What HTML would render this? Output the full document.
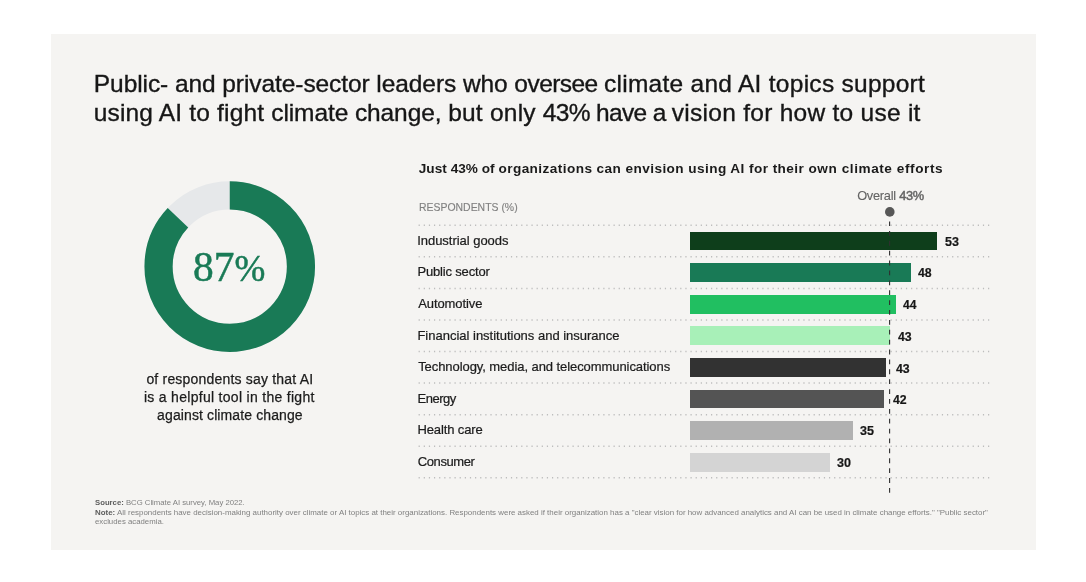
<!DOCTYPE html>
<html lang="en"><head><meta charset="utf-8"><title>AI and climate change survey</title>
<style>
html,body{margin:0;padding:0;background:#fff;}
body{width:1086px;height:582px;position:relative;overflow:hidden;font-family:'Liberation Sans',sans-serif;}
.panel{position:absolute;left:51px;top:34px;width:985px;height:516px;background:#f5f4f2;}
.t{position:absolute;white-space:pre;line-height:1;margin:0;transform-origin:0 50%;}
.bar{position:absolute;left:690.2px;height:18.8px;}
.foot{position:absolute;left:95.2px;white-space:pre;font-size:8px;line-height:1;color:#808080;transform-origin:0 50%;}
.foot b{color:#5c5c5c;}
</style></head><body>
<div class="panel"></div>
<div class="t" style="left:93.85px;top:72.00px;font-size:24.5px;color:#161616;-webkit-text-stroke:0.35px #161616;"><span style="letter-spacing:-0.077px">Public- and private-sector leaders who </span><span style="letter-spacing:-0.546px">oversee </span><span style="letter-spacing:0.273px">climate and AI topics support</span></div>
<div class="t" style="left:93.65px;top:101.00px;font-size:24.5px;color:#161616;-webkit-text-stroke:0.35px #161616;"><span style="letter-spacing:0.181px">using AI to fight </span><span style="letter-spacing:-0.094px">climate change, </span><span style="letter-spacing:0.231px">but only </span><span style="letter-spacing:-0.656px">43% have a </span><span style="letter-spacing:0.268px">vision for how to use it</span></div>
<div class="t" style="left:418.75px;top:162.00px;font-size:13.6px;font-weight:700;color:#1a1a1a;"><span style="letter-spacing:0.031px">Just 43% of </span><span style="letter-spacing:0.428px">organizations can envision using AI for their </span><span style="letter-spacing:0.568px">own climate efforts</span></div>
<div class="t" style="left:419.32px;top:201.00px;font-size:11.6px;color:#808080;transform:scaleX(0.9007);-webkit-text-stroke:0.15px #808080;">RESPONDENTS (%)</div>
<div class="t" style="left:857.20px;top:190.00px;font-size:12.8px;color:#646464;letter-spacing:-0.270px;-webkit-text-stroke:0.1px #646464;">Overall <span style="-webkit-text-stroke:0.45px #646464">43%</span></div>
<div class="t" style="left:417.20px;top:234.00px;font-size:13px;color:#1c1c1c;letter-spacing:-0.033px;-webkit-text-stroke:0.22px #1c1c1c;">Industrial goods</div>
<div class="t" style="left:417.45px;top:265.00px;font-size:13px;color:#1c1c1c;letter-spacing:-0.171px;-webkit-text-stroke:0.22px #1c1c1c;">Public sector</div>
<div class="t" style="left:418.20px;top:297.00px;font-size:13px;color:#1c1c1c;letter-spacing:-0.083px;-webkit-text-stroke:0.22px #1c1c1c;">Automotive</div>
<div class="t" style="left:417.45px;top:329.00px;font-size:13px;color:#1c1c1c;letter-spacing:-0.007px;-webkit-text-stroke:0.22px #1c1c1c;">Financial institutions and insurance</div>
<div class="t" style="left:418.20px;top:360.00px;font-size:13px;color:#1c1c1c;letter-spacing:-0.072px;-webkit-text-stroke:0.22px #1c1c1c;">Technology, media, and telecommunications</div>
<div class="t" style="left:417.45px;top:392.00px;font-size:13px;color:#1c1c1c;letter-spacing:-0.480px;-webkit-text-stroke:0.22px #1c1c1c;">Energy</div>
<div class="t" style="left:417.45px;top:423.00px;font-size:13px;color:#1c1c1c;letter-spacing:-0.115px;-webkit-text-stroke:0.22px #1c1c1c;">Health care</div>
<div class="t" style="left:417.70px;top:455.00px;font-size:13px;color:#1c1c1c;letter-spacing:-0.386px;-webkit-text-stroke:0.22px #1c1c1c;">Consumer</div>
<div class="t" style="left:944.76px;top:235.00px;font-size:13px;font-weight:700;color:#161616;transform:scaleX(0.9643);-webkit-text-stroke:0.2px #161616;">53</div>
<div class="t" style="left:918.10px;top:266.00px;font-size:13px;font-weight:700;color:#161616;transform:scaleX(0.9474);-webkit-text-stroke:0.2px #161616;">48</div>
<div class="t" style="left:903.30px;top:298.00px;font-size:13px;font-weight:700;color:#161616;transform:scaleX(0.9310);-webkit-text-stroke:0.2px #161616;">44</div>
<div class="t" style="left:897.50px;top:330.00px;font-size:13px;font-weight:700;color:#161616;transform:scaleX(0.9474);-webkit-text-stroke:0.2px #161616;">43</div>
<div class="t" style="left:896.40px;top:362.00px;font-size:13px;font-weight:700;color:#161616;transform:scaleX(0.9474);-webkit-text-stroke:0.2px #161616;">43</div>
<div class="t" style="left:892.80px;top:393.00px;font-size:13px;font-weight:700;color:#161616;transform:scaleX(0.9474);-webkit-text-stroke:0.2px #161616;">42</div>
<div class="t" style="left:860.36px;top:424.00px;font-size:13px;font-weight:700;color:#161616;transform:scaleX(0.9643);-webkit-text-stroke:0.2px #161616;">35</div>
<div class="t" style="left:837.16px;top:456.00px;font-size:13px;font-weight:700;color:#161616;transform:scaleX(0.9643);-webkit-text-stroke:0.2px #161616;">30</div>
<div class="t" style="left:146.40px;top:372.00px;font-size:14px;color:#1c1c1c;letter-spacing:0.194px;-webkit-text-stroke:0.25px #1c1c1c;">of respondents say that AI</div>
<div class="t" style="left:143.95px;top:390.00px;font-size:14px;color:#1c1c1c;letter-spacing:0.295px;-webkit-text-stroke:0.25px #1c1c1c;">is a helpful tool in the fight</div>
<div class="t" style="left:157.10px;top:408.00px;font-size:14px;color:#1c1c1c;letter-spacing:0.112px;-webkit-text-stroke:0.25px #1c1c1c;">against climate change</div>
<div class="t" style="left:192.78px;top:246.00px;font-size:42.5px;font-family:'Liberation Serif',serif;color:#197a56;transform:scaleX(0.9750);-webkit-text-stroke:0.5px #197a56;">87<span style="font-size:38px">%</span></div>
<div class="bar" style="top:231.50px;width:247.1px;background:#0e3e1b"></div>
<div class="bar" style="top:263.13px;width:221.3px;background:#197a56"></div>
<div class="bar" style="top:294.76px;width:205.6px;background:#21bf61"></div>
<div class="bar" style="top:326.39px;width:199.7px;background:#a8f0b8"></div>
<div class="bar" style="top:358.02px;width:196.3px;background:#323232"></div>
<div class="bar" style="top:389.65px;width:193.6px;background:#545454"></div>
<div class="bar" style="top:421.28px;width:162.5px;background:#b1b1b1"></div>
<div class="bar" style="top:452.91px;width:140.2px;background:#d4d4d4"></div>
<svg style="position:absolute;left:0;top:0" width="1086" height="582" viewBox="0 0 1086 582">
<line x1="418.6" y1="225.30" x2="989.5" y2="225.30" stroke="#bdbdbd" stroke-width="1.5" stroke-dasharray="1.2 3.93"/>
<line x1="418.6" y1="256.86" x2="989.5" y2="256.86" stroke="#bdbdbd" stroke-width="1.5" stroke-dasharray="1.2 3.93"/>
<line x1="418.6" y1="288.42" x2="989.5" y2="288.42" stroke="#bdbdbd" stroke-width="1.5" stroke-dasharray="1.2 3.93"/>
<line x1="418.6" y1="319.98" x2="989.5" y2="319.98" stroke="#bdbdbd" stroke-width="1.5" stroke-dasharray="1.2 3.93"/>
<line x1="418.6" y1="351.54" x2="989.5" y2="351.54" stroke="#bdbdbd" stroke-width="1.5" stroke-dasharray="1.2 3.93"/>
<line x1="418.6" y1="383.10" x2="989.5" y2="383.10" stroke="#bdbdbd" stroke-width="1.5" stroke-dasharray="1.2 3.93"/>
<line x1="418.6" y1="414.66" x2="989.5" y2="414.66" stroke="#bdbdbd" stroke-width="1.5" stroke-dasharray="1.2 3.93"/>
<line x1="418.6" y1="446.22" x2="989.5" y2="446.22" stroke="#bdbdbd" stroke-width="1.5" stroke-dasharray="1.2 3.93"/>
<line x1="418.6" y1="477.78" x2="989.5" y2="477.78" stroke="#bdbdbd" stroke-width="1.5" stroke-dasharray="1.2 3.93"/>
<circle cx="889.8" cy="211.9" r="4.8" fill="#575757"/>
<line x1="889.6" y1="492.8" x2="889.6" y2="221.6" stroke="#303030" stroke-width="1.1" stroke-dasharray="4.8 5.086"/>
<circle cx="229.75" cy="266.6" r="71.2" fill="none" stroke="#e6e8ea" stroke-width="28.2"/>
<circle cx="229.75" cy="266.6" r="71.2" fill="none" stroke="#197a56" stroke-width="28.2" stroke-dasharray="388.76 447.36" transform="rotate(-90 229.75 266.6)"/>
</svg>
<div class="foot" style="top:498.50px;transform:scaleX(0.966)"><b>Source:</b> BCG Climate AI survey, May 2022.</div>
<div class="foot" style="top:508.50px;transform:scaleX(0.99)"><b>Note:</b> All respondents have decision-making authority over climate or AI topics at their organizations. Respondents were asked if their organization has a &quot;clear vision for how advanced analytics and AI can be used in climate change efforts.&quot; &quot;Public sector&quot;</div>
<div class="foot" style="top:517.50px;transform:scaleX(0.975)">excludes academia.</div>
</body></html>
